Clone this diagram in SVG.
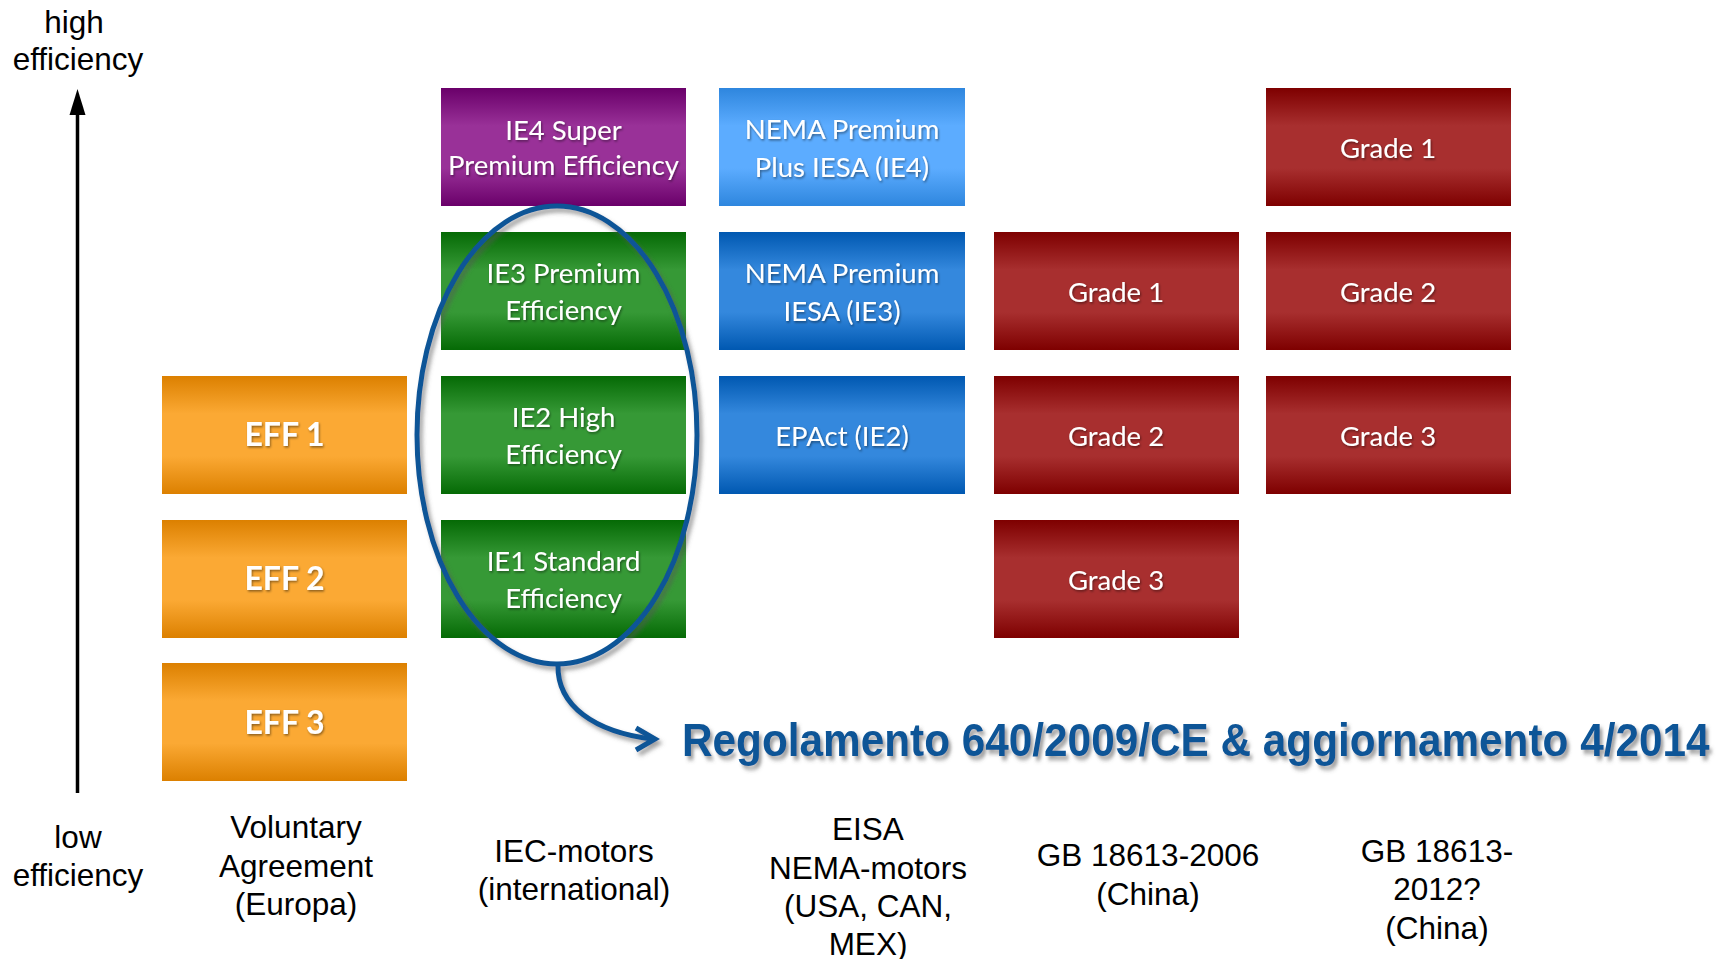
<svg xmlns="http://www.w3.org/2000/svg" width="1725" height="959" viewBox="0 0 1725 959">
<defs>
<linearGradient id="gOrange" x1="0" y1="0" x2="0" y2="1"><stop offset="0" stop-color="#DC8000"/><stop offset="0.32" stop-color="#FBA934"/><stop offset="0.68" stop-color="#FBA934"/><stop offset="1" stop-color="#DC8000"/></linearGradient>
<linearGradient id="gPurple" x1="0" y1="0" x2="0" y2="1"><stop offset="0" stop-color="#6A006A"/><stop offset="0.32" stop-color="#993198"/><stop offset="0.68" stop-color="#993198"/><stop offset="1" stop-color="#6A006A"/></linearGradient>
<linearGradient id="gGreen" x1="0" y1="0" x2="0" y2="1"><stop offset="0" stop-color="#056A05"/><stop offset="0.32" stop-color="#369936"/><stop offset="0.68" stop-color="#369936"/><stop offset="1" stop-color="#056A05"/></linearGradient>
<linearGradient id="gLBlue" x1="0" y1="0" x2="0" y2="1"><stop offset="0" stop-color="#2E86DE"/><stop offset="0.32" stop-color="#5CACFF"/><stop offset="0.68" stop-color="#5CACFF"/><stop offset="1" stop-color="#2E86DE"/></linearGradient>
<linearGradient id="gDBlue" x1="0" y1="0" x2="0" y2="1"><stop offset="0" stop-color="#0058B1"/><stop offset="0.32" stop-color="#3488DD"/><stop offset="0.68" stop-color="#3488DD"/><stop offset="1" stop-color="#0058B1"/></linearGradient>
<linearGradient id="gRed" x1="0" y1="0" x2="0" y2="1"><stop offset="0" stop-color="#7E0000"/><stop offset="0.32" stop-color="#A82F2F"/><stop offset="0.68" stop-color="#A82F2F"/><stop offset="1" stop-color="#7E0000"/></linearGradient>
<filter id="tshadow" x="-10%" y="-20%" width="120%" height="150%"><feDropShadow dx="1" dy="1.5" stdDeviation="1" flood-color="#000" flood-opacity="0.45"/></filter>
<filter id="lshadow" x="-10%" y="-10%" width="130%" height="130%"><feDropShadow dx="3" dy="4" stdDeviation="2" flood-color="#555" flood-opacity="0.55"/></filter>
</defs>
<style>
.bt{font-family:Lato,"Open Sans","Liberation Sans",sans-serif;font-size:27.5px;fill:#fff;text-anchor:middle;filter:url(#tshadow)}
.eff{font-family:Lato,"Open Sans","Liberation Sans",sans-serif;font-size:32px;font-weight:bold;fill:#fff;text-anchor:middle;filter:url(#tshadow)}
.lbl{font-family:"Liberation Sans",Arial,sans-serif;font-size:31.5px;fill:#000;text-anchor:middle}
</style>
<rect width="1725" height="959" fill="#fff"/>

<g id="axis">
<line x1="77.5" y1="793" x2="77.5" y2="112" stroke="#000" stroke-width="3.5"/>
<polygon points="77.5,89 85.5,115 69.5,115" fill="#000"/>
<text class="lbl" x="74" y="33">high</text>
<text class="lbl" x="78" y="70">efficiency</text>
<text class="lbl" x="78" y="848">low</text>
<text class="lbl" x="78" y="886">efficiency</text>
</g>

<g id="col-voluntary">
<g id="eff1"><rect x="162" y="376" width="245" height="118" fill="url(#gOrange)"/><text class="eff" x="284.5" y="446">EFF 1</text></g>
<g id="eff2"><rect x="162" y="520" width="245" height="118" fill="url(#gOrange)"/><text class="eff" x="284.5" y="590">EFF 2</text></g>
<g id="eff3"><rect x="162" y="663" width="245" height="118" fill="url(#gOrange)"/><text class="eff" x="284.5" y="734">EFF 3</text></g>
<g id="lbl-voluntary"><text class="lbl" x="296" y="838">Voluntary</text><text class="lbl" x="296" y="877">Agreement</text><text class="lbl" x="296" y="915">(Europa)</text></g>
</g>

<g id="col-iec">
<g id="ie4"><rect x="441" y="88" width="245" height="118" fill="url(#gPurple)"/><text class="bt" x="563.5" y="140">IE4 Super</text><text class="bt" x="563.5" y="175">Premium Efficiency</text></g>
<g id="ie3"><rect x="441" y="232" width="245" height="118" fill="url(#gGreen)"/><text class="bt" x="563.5" y="283">IE3 Premium</text><text class="bt" x="563.5" y="320">Efficiency</text></g>
<g id="ie2"><rect x="441" y="376" width="245" height="118" fill="url(#gGreen)"/><text class="bt" x="563.5" y="427">IE2 High</text><text class="bt" x="563.5" y="464">Efficiency</text></g>
<g id="ie1"><rect x="441" y="520" width="245" height="118" fill="url(#gGreen)"/><text class="bt" x="563.5" y="571">IE1 Standard</text><text class="bt" x="563.5" y="608">Efficiency</text></g>
<g id="lbl-iec"><text class="lbl" x="574" y="862">IEC-motors</text><text class="lbl" x="574" y="900">(international)</text></g>
</g>

<g id="col-nema">
<g id="nema-ie4"><rect x="719" y="88" width="246" height="118" fill="url(#gLBlue)"/><text class="bt" x="842" y="139">NEMA Premium</text><text class="bt" x="842" y="177">Plus IESA (IE4)</text></g>
<g id="nema-ie3"><rect x="719" y="232" width="246" height="118" fill="url(#gDBlue)"/><text class="bt" x="842" y="283">NEMA Premium</text><text class="bt" x="842" y="321">IESA (IE3)</text></g>
<g id="epact"><rect x="719" y="376" width="246" height="118" fill="url(#gDBlue)"/><text class="bt" x="842" y="446">EPAct (IE2)</text></g>
<g id="lbl-nema"><text class="lbl" x="868" y="840">EISA</text><text class="lbl" x="868" y="879">NEMA-motors</text><text class="lbl" x="868" y="917">(USA, CAN,</text><text class="lbl" x="868" y="955">MEX)</text></g>
</g>

<g id="col-gb2006">
<g id="gb06-g1"><rect x="994" y="232" width="245" height="118" fill="url(#gRed)"/><text class="bt" x="1116" y="302">Grade 1</text></g>
<g id="gb06-g2"><rect x="994" y="376" width="245" height="118" fill="url(#gRed)"/><text class="bt" x="1116" y="446">Grade 2</text></g>
<g id="gb06-g3"><rect x="994" y="520" width="245" height="118" fill="url(#gRed)"/><text class="bt" x="1116" y="590">Grade 3</text></g>
<g id="lbl-gb2006"><text class="lbl" x="1148" y="866">GB 18613-2006</text><text class="lbl" x="1148" y="905">(China)</text></g>
</g>

<g id="col-gb2012">
<g id="gb12-g1"><rect x="1266" y="88" width="245" height="118" fill="url(#gRed)"/><text class="bt" x="1388" y="158">Grade 1</text></g>
<g id="gb12-g2"><rect x="1266" y="232" width="245" height="118" fill="url(#gRed)"/><text class="bt" x="1388" y="302">Grade 2</text></g>
<g id="gb12-g3"><rect x="1266" y="376" width="245" height="118" fill="url(#gRed)"/><text class="bt" x="1388" y="446">Grade 3</text></g>
<g id="lbl-gb2012"><text class="lbl" x="1437" y="862">GB 18613-</text><text class="lbl" x="1437" y="900">2012?</text><text class="lbl" x="1437" y="939">(China)</text></g>
</g>

<g id="connectors" fill="none" stroke="#0D5597" stroke-width="5" filter="url(#lshadow)">
<ellipse cx="557" cy="435" rx="140" ry="229"/>
<path d="M558,665 C557,706 595,732 652,739"/>
<path d="M636,728 L655,739 L636,750" stroke-linejoin="miter"/>
</g>

<g id="regolamento">
<text transform="translate(682,756) scale(0.92,1)" x="0" y="0" font-family="'Liberation Sans',Arial,sans-serif" font-weight="bold" font-size="46" fill="#0D5597" filter="url(#lshadow)">Regolamento 640/2009/CE &amp; aggiornamento 4/2014</text>
</g>
</svg>
